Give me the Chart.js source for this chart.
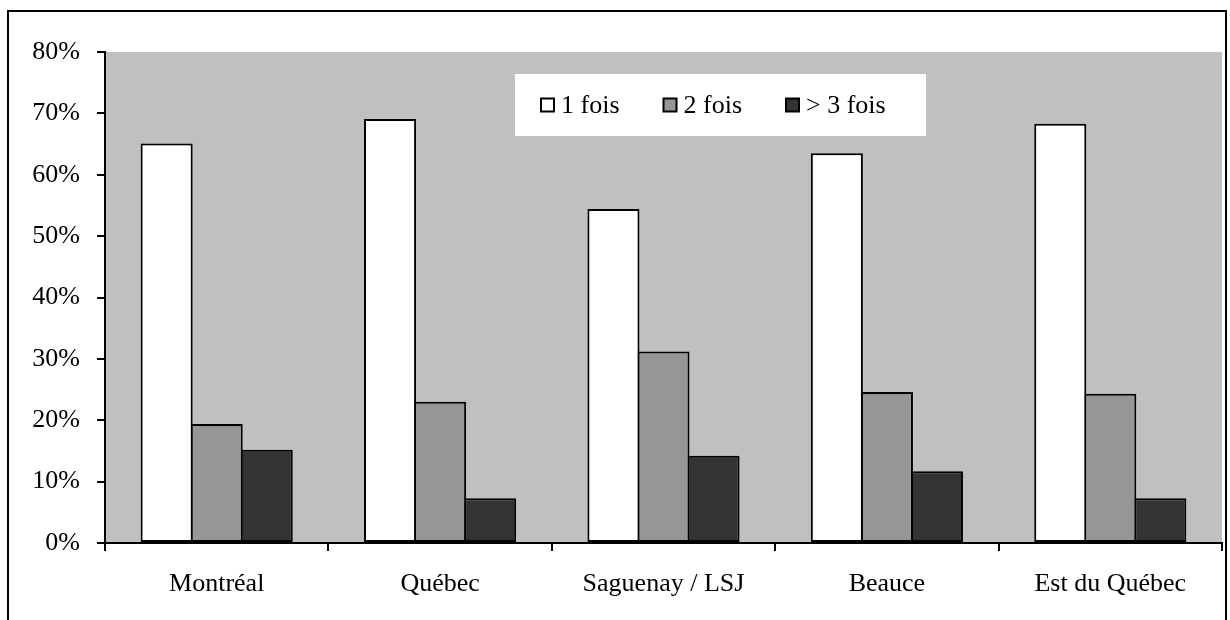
<!DOCTYPE html>
<html lang="fr">
<head>
<meta charset="utf-8">
<title>Fréquence par région</title>
<script src="https://cdn.jsdelivr.net/npm/chart.js@4.4.1/dist/chart.umd.min.js"></script>
<style>
  html, body { margin: 0; padding: 0; background: #ffffff; }
  #wrap { width: 1230px; height: 620px; }
</style>
</head>
<body>
<div id="wrap"><canvas id="chart" width="1230" height="620"></canvas></div>
<script>
// Regions on the category axis
const categories = ['Montréal', 'Québec', 'Saguenay / LSJ', 'Beauce', 'Est du Québec'];
// Series names
const seriesLabels = ['1 fois', '2 fois', '> 3 fois'];
// Percentages per region
const onceValues = [65.1, 69.1, 54.4, 63.5, 68.3];
const twiceValues = [19.4, 23.0, 31.2, 24.6, 24.3];
const threePlusValues = [15.2, 7.3, 14.2, 11.7, 7.3];
// Value axis
const yMin = 0;
const yMax = 80;
const yStep = 10;

const FONT = '"Liberation Serif", "Times New Roman", serif';
const FONT_SIZE = 26;
const fills = ['#ffffff', '#969696', '#333333'];

// Grey plot background plus the thin frame around the whole figure
const backdrop = {
  id: 'backdrop',
  beforeDraw(chart) {
    const { ctx, chartArea: a } = chart;
    ctx.save();
    ctx.fillStyle = '#c0c0c0';
    ctx.fillRect(a.left, a.top, a.right - a.left, a.bottom - a.top);
    ctx.strokeStyle = '#000000';
    ctx.lineWidth = 2;
    ctx.strokeRect(8, 11, 1218, 640);
    ctx.restore();
  }
};

// Legend box drawn inside the plot area
const insideLegend = {
  id: 'insideLegend',
  afterDatasetsDraw(chart) {
    const { ctx, chartArea: a } = chart;
    const boxX = a.left + 410, boxY = a.top + 22, boxW = 411, boxH = 62;
    ctx.save();
    ctx.fillStyle = '#ffffff';
    ctx.fillRect(boxX, boxY, boxW, boxH);
    ctx.font = FONT_SIZE + 'px ' + FONT;
    ctx.textBaseline = 'middle';
    ctx.textAlign = 'left';
    const midY = boxY + boxH / 2;
    let x = boxX + 26;
    chart.data.datasets.forEach((ds) => {
      const s = 13;
      ctx.fillStyle = ds.backgroundColor;
      ctx.fillRect(x, midY - s / 2, s, s);
      ctx.strokeStyle = '#000000';
      ctx.lineWidth = 2;
      ctx.strokeRect(x, midY - s / 2, s, s);
      ctx.fillStyle = '#000000';
      const tx = x + s + 7;
      ctx.fillText(ds.label, tx, midY + 1);
      x = tx + ctx.measureText(ds.label).width + 44;
    });
    ctx.restore();
  }
};

const seriesValues = [onceValues, twiceValues, threePlusValues];

new Chart(document.getElementById('chart'), {
  type: 'bar',
  data: {
    labels: categories,
    datasets: seriesLabels.map((label, i) => ({
      label,
      data: seriesValues[i],
      backgroundColor: fills[i],
      borderColor: '#000000',
      borderWidth: 2,
      borderSkipped: false,
      categoryPercentage: 0.672,
      barPercentage: 1.04
    }))
  },
  options: {
    responsive: false,
    animation: false,
    devicePixelRatio: 1,
    layout: { padding: { top: 52, right: 8, left: 0, bottom: 0 } },
    plugins: {
      legend: { display: false },
      tooltip: { enabled: false }
    },
    scales: {
      x: {
        offset: true,
        grid: {
          offset: true,
          drawOnChartArea: false,
          drawTicks: true,
          tickLength: 8,
          color: '#000000',
          lineWidth: 2
        },
        border: { display: true, color: '#000000', width: 2 },
        ticks: {
          color: '#000000',
          font: { family: FONT, size: FONT_SIZE },
          padding: 18,
          maxRotation: 0,
          autoSkip: false
        },
        afterFit(scale) { scale.height = 77; }
      },
      y: {
        min: yMin,
        max: yMax,
        grid: {
          drawOnChartArea: false,
          drawTicks: true,
          tickLength: 8,
          color: '#000000',
          lineWidth: 2
        },
        border: { display: true, color: '#000000', width: 2 },
        ticks: {
          stepSize: yStep,
          color: '#000000',
          font: { family: FONT, size: FONT_SIZE },
          padding: 17,
          callback: (v) => v + '%'
        },
        afterFit(scale) { scale.width = 105; }
      }
    }
  },
  plugins: [backdrop, insideLegend]
});
</script>
</body>
</html>
